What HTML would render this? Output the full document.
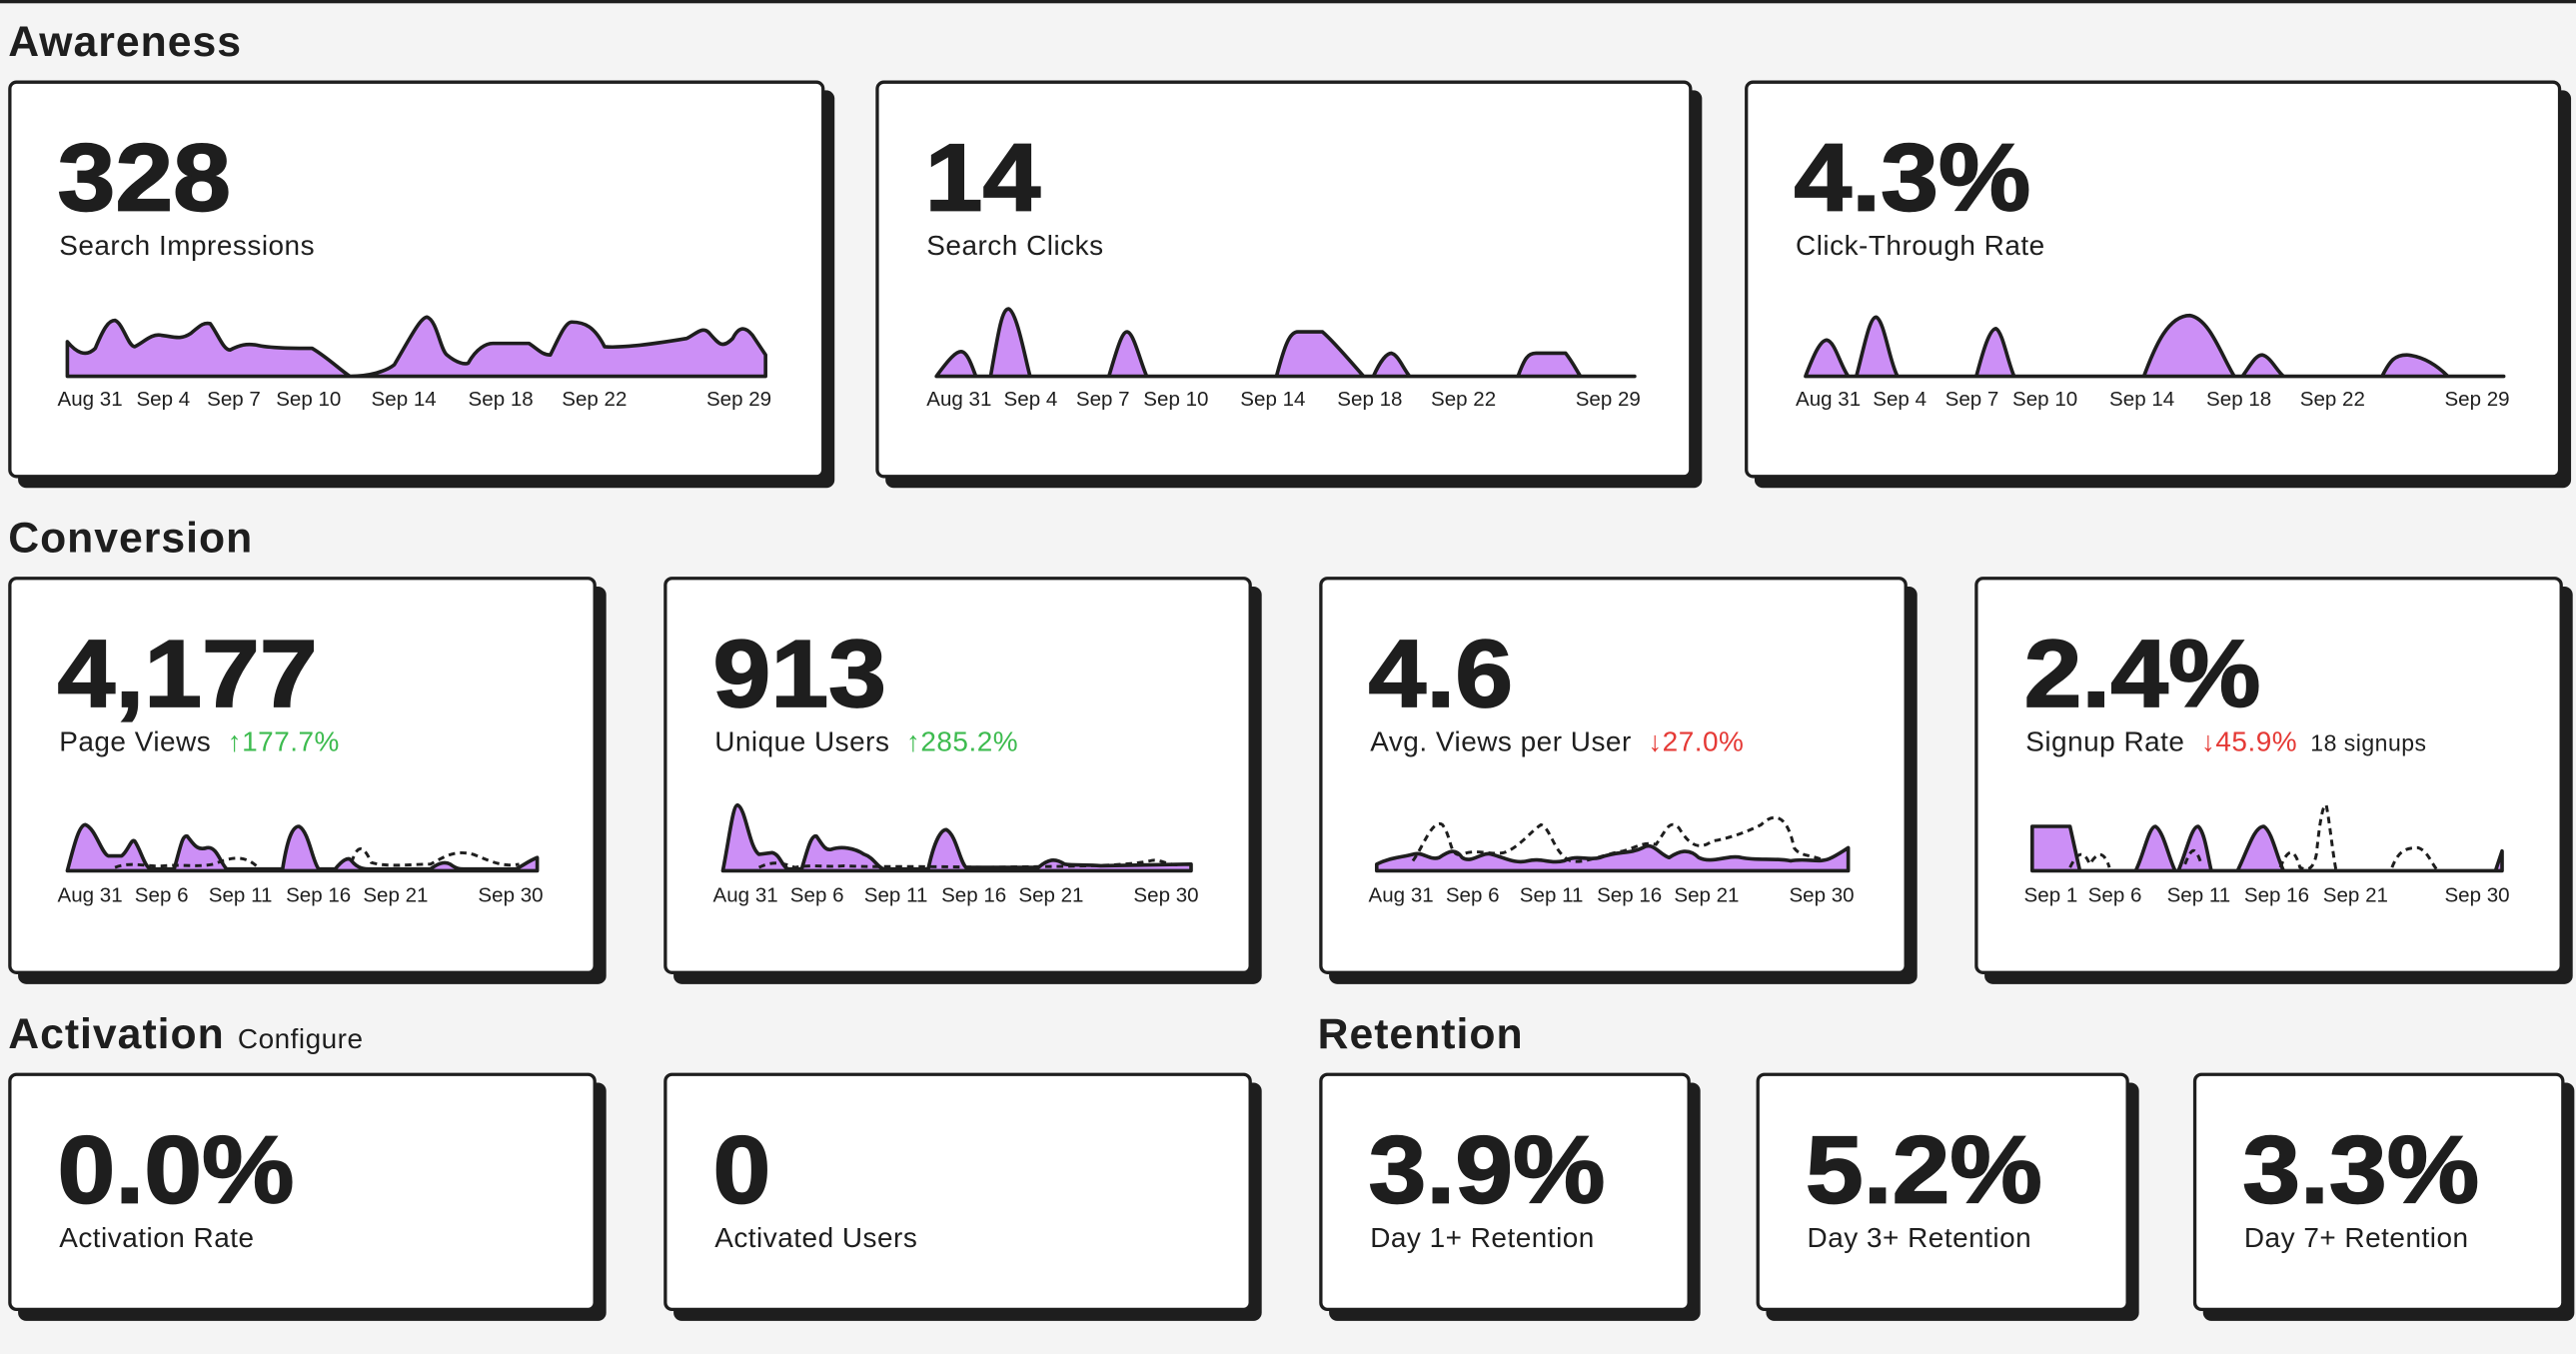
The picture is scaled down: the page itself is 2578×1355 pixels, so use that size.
<!DOCTYPE html>
<html><head><meta charset="utf-8"><style>
html,body{margin:0;padding:0;background:#f4f4f4;width:2578px;height:1354px;overflow:hidden}
#w{position:absolute;left:0;top:0;width:1568px;height:824px;transform:scale(1.64413);transform-origin:0 0;font-family:"Liberation Sans",sans-serif;color:#1e1e1e}
.top{position:absolute;left:0;top:0;width:1568px;height:1.5px;background:#1e1e1e}
h2{position:absolute;margin:0;font-size:26px;font-weight:bold;letter-spacing:0.6px}
h2 span{font-size:17px;font-weight:normal;margin-left:8px;letter-spacing:0.3px}
.c{position:absolute;background:#fff;border:2px solid #1e1e1e;border-radius:5px;box-shadow:6px 6px 0 #1e1e1e;box-sizing:border-box}
.n{position:absolute;left:29px;font-size:58px;font-weight:bold;line-height:1;transform:scaleX(1.09);transform-origin:0 0;-webkit-text-stroke:1px #1e1e1e}
.l{position:absolute;left:29px;font-size:17px;white-space:nowrap;letter-spacing:0.3px}
.g{color:#3dbb4f;margin-left:10px}.r{color:#e53935;margin-left:10px}.s{font-size:14px;margin-left:8px}
svg{position:absolute;left:0;top:0;overflow:visible}
svg text{font-family:"Liberation Sans",sans-serif;font-size:12.5px;fill:#1e1e1e}
.a{fill:#cc8ff6;stroke:#1e1e1e;stroke-width:2.2;stroke-linejoin:round}
.d{fill:none;stroke:#1e1e1e;stroke-width:1.8;stroke-dasharray:4 3}
</style></head><body><div id="w">
<div class="top"></div>
<h2 style="left:5px;top:10px">Awareness</h2>
<div class="c" style="left:5px;top:49px;width:497px;height:242px"></div>
<div class="c" style="left:533px;top:49px;width:497px;height:242px"></div>
<div class="c" style="left:1062px;top:49px;width:497px;height:242px"></div>
<div class="n" style="left:35px;top:80px">328</div><div class="l" style="left:36px;top:140px">Search Impressions</div>
<div class="n" style="left:563px;top:80px">14</div><div class="l" style="left:564px;top:140px">Search Clicks</div>
<div class="n" style="left:1092px;top:80px">4.3%</div><div class="l" style="left:1093px;top:140px">Click-Through Rate</div>

<h2 style="left:5px;top:312px">Conversion</h2>
<div class="c" style="left:5px;top:351px;width:358px;height:242px"></div>
<div class="c" style="left:404px;top:351px;width:358px;height:242px"></div>
<div class="c" style="left:803px;top:351px;width:358px;height:242px"></div>
<div class="c" style="left:1202px;top:351px;width:358px;height:242px"></div>
<div class="n" style="left:35px;top:382px">4,177</div><div class="l" style="left:36px;top:442px">Page Views<span class="g">↑177.7%</span></div>
<div class="n" style="left:434px;top:382px">913</div><div class="l" style="left:435px;top:442px">Unique Users<span class="g">↑285.2%</span></div>
<div class="n" style="left:833px;top:382px">4.6</div><div class="l" style="left:834px;top:442px">Avg. Views per User<span class="r">↓27.0%</span></div>
<div class="n" style="left:1232px;top:382px">2.4%</div><div class="l" style="left:1233px;top:442px">Signup Rate<span class="r">↓45.9%</span><span class="s">18 signups</span></div>

<h2 style="left:5px;top:614px">Activation<span>Configure</span></h2>
<h2 style="left:802px;top:614px">Retention</h2>
<div class="c" style="left:5px;top:653px;width:358px;height:145px"></div>
<div class="c" style="left:404px;top:653px;width:358px;height:145px"></div>
<div class="c" style="left:803px;top:653px;width:226px;height:145px"></div>
<div class="c" style="left:1069px;top:653px;width:227px;height:145px"></div>
<div class="c" style="left:1335px;top:653px;width:226px;height:145px"></div>
<div class="n" style="left:35px;top:684px">0.0%</div><div class="l" style="left:36px;top:744px">Activation Rate</div>
<div class="n" style="left:434px;top:684px">0</div><div class="l" style="left:435px;top:744px">Activated Users</div>
<div class="n" style="left:833px;top:684px">3.9%</div><div class="l" style="left:834px;top:744px">Day 1+ Retention</div>
<div class="n" style="left:1099px;top:684px">5.2%</div><div class="l" style="left:1100px;top:744px">Day 3+ Retention</div>
<div class="n" style="left:1365px;top:684px">3.3%</div><div class="l" style="left:1366px;top:744px">Day 7+ Retention</div>

<svg width="1568" height="824">
<path class="a" d="M41 229 L41 208 C46 214 52 218 58 212 C63 200 66 195 70 195 C75 197 78 211 82 211 C88 208 92 203 98 204 C106 205 110 207 116 203 C122 198 124 196 128 197 C133 204 136 213 140 213 C146 210 150 209 156 210 C164 212 180 212 190 212 C200 218 208 226 213 229 C225 229 235 226 240 222 C250 205 256 193 260 193 C266 195 268 213 272 216 C278 221 283 222 285 221 C290 212 296 209 300 209 L322 209 C328 213 330 216 335 216 C340 206 344 196 348 196 C356 196 362 199 368 211 C378 212 400 209 418 206 C424 203 428 198 432 203 C438 210 440 212 446 206 C450 198 454 199 458 204 C462 210 466 216 466 216 L466 229 Z"/>
<text x="35" y="247">Aug 31</text><text x="83" y="247">Sep 4</text><text x="126" y="247">Sep 7</text><text x="168" y="247">Sep 10</text><text x="226" y="247">Sep 14</text><text x="285" y="247">Sep 18</text><text x="342" y="247">Sep 22</text><text x="430" y="247">Sep 29</text>

<path class="a" d="M570 229 C578 218 582 214 585 214 C589 214 592 224 594 229 L603 229 C608 200 610 188 614 188 C619 190 624 218 627 229 L675 229 C680 212 683 202 686 202 C690 202 694 220 698 229 L777 229 C782 210 785 202 790 202 L805 202 C812 208 822 220 830 229 L836 229 C840 220 844 215 847 215 C851 216 854 224 858 229 L924 229 C928 218 930 215 935 215 L953 215 C957 220 960 226 962 229 L995 229 Z"/>
<text x="564" y="247">Aug 31</text><text x="611" y="247">Sep 4</text><text x="655" y="247">Sep 7</text><text x="696" y="247">Sep 10</text><text x="755" y="247">Sep 14</text><text x="814" y="247">Sep 18</text><text x="871" y="247">Sep 22</text><text x="959" y="247">Sep 29</text>

<path class="a" d="M1099 229 C1104 216 1108 207 1112 207 C1117 208 1120 222 1125 229 L1130 229 C1135 210 1138 193 1142 193 C1147 195 1150 220 1155 229 L1203 229 C1207 214 1211 200 1215 200 C1219 202 1222 220 1226 229 L1305 229 C1312 210 1320 192 1333 192 C1345 194 1352 216 1360 229 L1365 229 C1370 222 1373 216 1377 216 C1382 217 1386 226 1390 229 L1450 229 C1455 219 1458 216 1465 216 C1476 217 1484 223 1490 229 L1524 229 Z"/>
<text x="1093" y="247">Aug 31</text><text x="1140" y="247">Sep 4</text><text x="1184" y="247">Sep 7</text><text x="1225" y="247">Sep 10</text><text x="1284" y="247">Sep 14</text><text x="1343" y="247">Sep 18</text><text x="1400" y="247">Sep 22</text><text x="1488" y="247">Sep 29</text>

<path class="a" d="M41 530 C45 515 48 502 52 502 C58 504 62 520 66 521 L74 521 C78 518 80 510 82 512 C86 518 88 528 92 529 L106 529 C110 515 111 508 114 509 C118 514 120 518 126 516 C132 515 134 525 138 529 L172 529 C175 510 178 503 182 503 C188 506 190 524 194 529 L204 529 C208 524 212 521 214 524 C218 529 222 529 226 529 L262 529 C266 526 270 524 274 526 C278 529 280 529 282 529 L314 529 C318 527 322 524 327 522 L327 530 Z"/>
<path class="d" d="M70 528 C80 524 90 528 100 527 C110 526 120 528 130 526 C140 522 148 520 156 527 M214 525 C218 512 222 516 226 525 C236 528 250 526 262 526 C270 522 276 517 288 520 C298 524 306 528 316 526"/>
<text x="35" y="549">Aug 31</text><text x="82" y="549">Sep 6</text><text x="127" y="549">Sep 11</text><text x="174" y="549">Sep 16</text><text x="221" y="549">Sep 21</text><text x="291" y="549">Sep 30</text>

<path class="a" d="M440 530 C444 510 446 490 449 490 C454 492 456 516 462 520 L470 519 C475 520 476 528 480 529 L488 529 C492 515 494 508 497 509 C500 513 502 518 506 517 C512 515 520 516 526 520 C532 522 534 528 538 529 L565 529 C568 515 572 505 576 505 C582 508 584 524 588 528 L632 528 C638 523 642 522 648 526 C654 527 662 526 670 527 L725 526 L725 530 Z"/>
<path class="d" d="M462 528 C470 524 476 525 484 528 C494 526 504 528 514 527 C530 528 560 527 600 528 C640 527 680 528 700 524 C706 522 712 528 720 526"/>
<text x="434" y="549">Aug 31</text><text x="481" y="549">Sep 6</text><text x="526" y="549">Sep 11</text><text x="573" y="549">Sep 16</text><text x="620" y="549">Sep 21</text><text x="690" y="549">Sep 30</text>

<path class="a" d="M838 530 L838 526 C846 522 852 522 860 520 C866 518 870 524 876 522 C882 518 886 516 890 522 C896 526 902 518 908 520 C916 522 922 526 930 524 C938 522 944 526 952 524 C960 520 966 524 974 522 C984 518 992 520 1000 516 C1006 512 1010 520 1016 522 C1022 518 1028 516 1034 522 C1042 526 1052 520 1060 522 C1070 524 1080 522 1090 524 C1100 522 1108 526 1115 522 C1119 520 1122 518 1125 516 L1125 530 Z"/>
<path class="d" d="M860 524 C866 516 872 498 878 502 C884 510 882 522 890 520 C900 516 910 522 918 518 C926 514 932 506 938 502 C944 504 946 520 956 524 C964 526 976 520 988 518 C996 516 1000 512 1008 514 C1014 506 1016 498 1022 504 C1028 514 1034 518 1042 512 C1054 510 1064 506 1072 502 C1080 494 1088 496 1092 516 C1096 522 1104 520 1110 524"/>
<text x="833" y="549">Aug 31</text><text x="880" y="549">Sep 6</text><text x="925" y="549">Sep 11</text><text x="972" y="549">Sep 16</text><text x="1019" y="549">Sep 21</text><text x="1089" y="549">Sep 30</text>

<path class="a" d="M1237 530 L1237 503 L1260 503 L1266 530 L1300 530 C1305 520 1308 503 1312 503 C1317 506 1320 522 1324 530 L1326 530 C1331 518 1334 503 1338 503 C1342 506 1344 522 1346 530 L1362 530 C1368 518 1372 503 1378 503 C1383 506 1386 522 1390 530 L1519 530 L1523 518 L1523 530 Z"/>
<path class="d" d="M1260 528 C1264 520 1268 516 1272 526 C1276 520 1280 516 1284 528 M1330 526 C1334 516 1336 514 1340 526 M1388 528 C1392 518 1396 514 1400 528 C1404 530 1408 530 1410 520 C1412 500 1414 489 1416 490 C1418 500 1420 520 1422 530 M1456 528 C1460 518 1464 516 1472 516 C1478 518 1480 526 1484 530"/>
<text x="1232" y="549">Sep 1</text><text x="1271" y="549">Sep 6</text><text x="1319" y="549">Sep 11</text><text x="1366" y="549">Sep 16</text><text x="1414" y="549">Sep 21</text><text x="1488" y="549">Sep 30</text>
</svg>
</div></body></html>
